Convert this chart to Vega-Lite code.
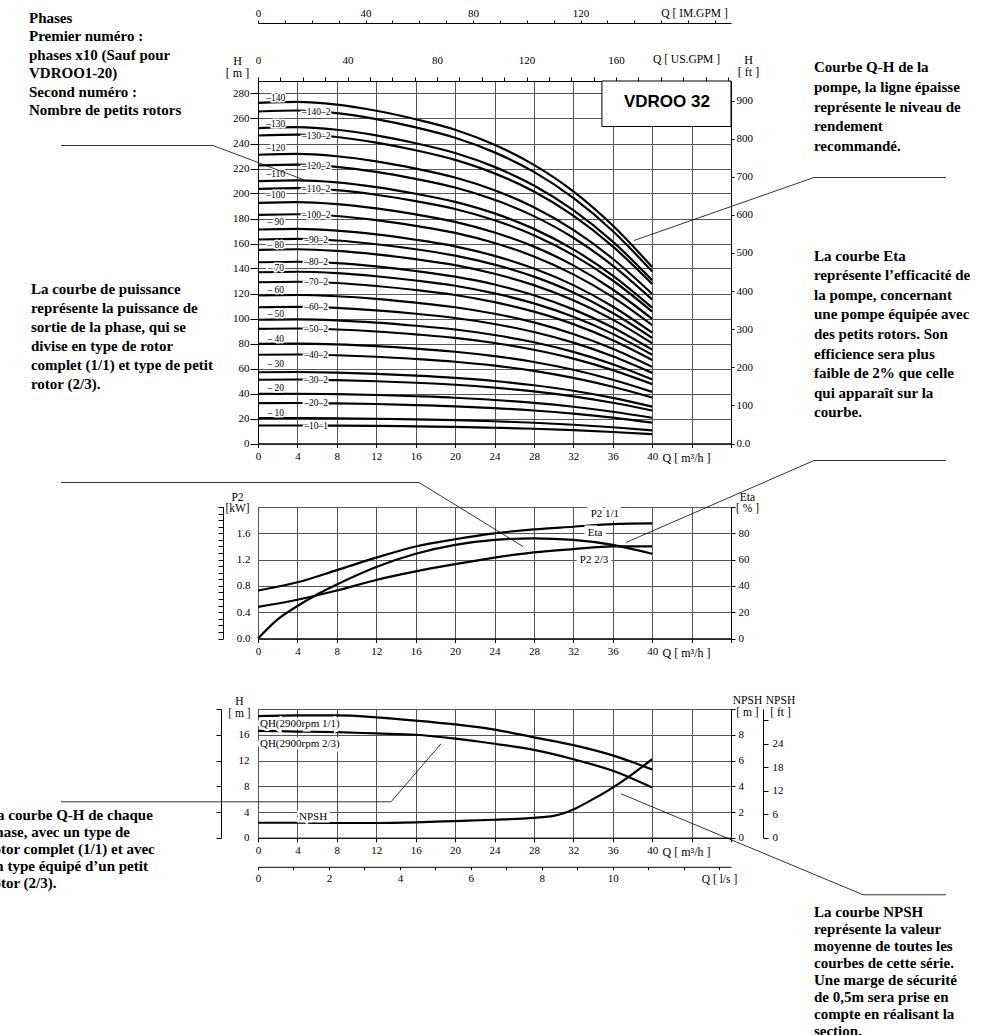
{
"$schema": "https://vega.github.io/schema/vega-lite/v6.json",
"padding": {"left": -14, "top": 6, "right": 4, "bottom": 0},
"background": "white",
"config": {
 "view": {"stroke": "black", "strokeWidth": 1},
 "axis": {"labelFont": "Liberation Serif", "labelFontSize": 11, "labelColor": "black", "titleFont": "Liberation Serif", "titleFontSize": 11.5, "titleFontWeight": "normal", "titleColor": "black", "domainColor": "black", "tickColor": "black", "gridColor": "#555", "gridWidth": 1, "labelOverlap": false, "labelFlush": false, "labelBound": false}
},
"datasets": {
 "qh": [
{"c":"140","Q":0,"H":272.5},{"c":"140","Q":4,"H":273.3},{"c":"140","Q":8,"H":271.1},{"c":"140","Q":12,"H":266.2},{"c":"140","Q":16,"H":259.4},{"c":"140","Q":20,"H":251.0},{"c":"140","Q":24,"H":239.0},{"c":"140","Q":28,"H":222.9},{"c":"140","Q":32,"H":201.7},{"c":"140","Q":36,"H":174.4},{"c":"140","Q":40,"H":141.2},
{"c":"140-2","Q":0,"H":265.6},{"c":"140-2","Q":4,"H":266.4},{"c":"140-2","Q":8,"H":264.3},{"c":"140-2","Q":12,"H":259.5},{"c":"140-2","Q":16,"H":252.9},{"c":"140-2","Q":20,"H":244.6},{"c":"140-2","Q":24,"H":232.9},{"c":"140-2","Q":28,"H":217.3},{"c":"140-2","Q":32,"H":196.5},{"c":"140-2","Q":36,"H":170.0},{"c":"140-2","Q":40,"H":137.6},
{"c":"130","Q":0,"H":252.3},{"c":"130","Q":4,"H":253.1},{"c":"130","Q":8,"H":251.0},{"c":"130","Q":12,"H":246.5},{"c":"130","Q":16,"H":240.2},{"c":"130","Q":20,"H":232.4},{"c":"130","Q":24,"H":221.3},{"c":"130","Q":28,"H":206.4},{"c":"130","Q":32,"H":186.7},{"c":"130","Q":36,"H":161.5},{"c":"130","Q":40,"H":130.7},
{"c":"130-2","Q":0,"H":246.4},{"c":"130-2","Q":4,"H":247.1},{"c":"130-2","Q":8,"H":245.2},{"c":"130-2","Q":12,"H":240.7},{"c":"130-2","Q":16,"H":234.6},{"c":"130-2","Q":20,"H":226.9},{"c":"130-2","Q":24,"H":216.1},{"c":"130-2","Q":28,"H":201.6},{"c":"130-2","Q":32,"H":182.3},{"c":"130-2","Q":36,"H":157.7},{"c":"130-2","Q":40,"H":127.6},
{"c":"120","Q":0,"H":231.0},{"c":"120","Q":4,"H":231.7},{"c":"120","Q":8,"H":229.8},{"c":"120","Q":12,"H":225.7},{"c":"120","Q":16,"H":219.9},{"c":"120","Q":20,"H":212.8},{"c":"120","Q":24,"H":202.6},{"c":"120","Q":28,"H":189.0},{"c":"120","Q":32,"H":170.9},{"c":"120","Q":36,"H":147.8},{"c":"120","Q":40,"H":119.7},
{"c":"120-2","Q":0,"H":222.4},{"c":"120-2","Q":4,"H":223.1},{"c":"120-2","Q":8,"H":221.3},{"c":"120-2","Q":12,"H":217.3},{"c":"120-2","Q":16,"H":211.7},{"c":"120-2","Q":20,"H":204.8},{"c":"120-2","Q":24,"H":195.0},{"c":"120-2","Q":28,"H":181.9},{"c":"120-2","Q":32,"H":164.6},{"c":"120-2","Q":36,"H":142.3},{"c":"120-2","Q":40,"H":115.2},
{"c":"110","Q":0,"H":209.9},{"c":"110","Q":4,"H":210.5},{"c":"110","Q":8,"H":208.9},{"c":"110","Q":12,"H":205.1},{"c":"110","Q":16,"H":199.8},{"c":"110","Q":20,"H":193.3},{"c":"110","Q":24,"H":184.1},{"c":"110","Q":28,"H":171.7},{"c":"110","Q":32,"H":155.3},{"c":"110","Q":36,"H":134.3},{"c":"110","Q":40,"H":108.7},
{"c":"110-2","Q":0,"H":203.7},{"c":"110-2","Q":4,"H":204.3},{"c":"110-2","Q":8,"H":202.7},{"c":"110-2","Q":12,"H":199.0},{"c":"110-2","Q":16,"H":193.9},{"c":"110-2","Q":20,"H":187.6},{"c":"110-2","Q":24,"H":178.6},{"c":"110-2","Q":28,"H":166.6},{"c":"110-2","Q":32,"H":150.7},{"c":"110-2","Q":36,"H":130.4},{"c":"110-2","Q":40,"H":105.5},
{"c":"100","Q":0,"H":192.5},{"c":"100","Q":4,"H":193.1},{"c":"100","Q":8,"H":191.5},{"c":"100","Q":12,"H":188.1},{"c":"100","Q":16,"H":183.3},{"c":"100","Q":20,"H":177.3},{"c":"100","Q":24,"H":168.8},{"c":"100","Q":28,"H":157.5},{"c":"100","Q":32,"H":142.5},{"c":"100","Q":36,"H":123.2},{"c":"100","Q":40,"H":99.7},
{"c":"100-2","Q":0,"H":182.9},{"c":"100-2","Q":4,"H":183.4},{"c":"100-2","Q":8,"H":182.0},{"c":"100-2","Q":12,"H":178.7},{"c":"100-2","Q":16,"H":174.1},{"c":"100-2","Q":20,"H":168.5},{"c":"100-2","Q":24,"H":160.4},{"c":"100-2","Q":28,"H":149.6},{"c":"100-2","Q":32,"H":135.3},{"c":"100-2","Q":36,"H":117.1},{"c":"100-2","Q":40,"H":94.7},
{"c":"90","Q":0,"H":171.2},{"c":"90","Q":4,"H":171.7},{"c":"90","Q":8,"H":170.3},{"c":"90","Q":12,"H":167.3},{"c":"90","Q":16,"H":163.0},{"c":"90","Q":20,"H":157.7},{"c":"90","Q":24,"H":150.1},{"c":"90","Q":28,"H":140.0},{"c":"90","Q":32,"H":126.7},{"c":"90","Q":36,"H":109.6},{"c":"90","Q":40,"H":88.7},
{"c":"90-2","Q":0,"H":163.2},{"c":"90-2","Q":4,"H":163.7},{"c":"90-2","Q":8,"H":162.4},{"c":"90-2","Q":12,"H":159.4},{"c":"90-2","Q":16,"H":155.4},{"c":"90-2","Q":20,"H":150.3},{"c":"90-2","Q":24,"H":143.1},{"c":"90-2","Q":28,"H":133.5},{"c":"90-2","Q":32,"H":120.8},{"c":"90-2","Q":36,"H":104.4},{"c":"90-2","Q":40,"H":84.5},
{"c":"80","Q":0,"H":154.9},{"c":"80","Q":4,"H":155.4},{"c":"80","Q":8,"H":154.1},{"c":"80","Q":12,"H":151.3},{"c":"80","Q":16,"H":147.5},{"c":"80","Q":20,"H":142.7},{"c":"80","Q":24,"H":135.8},{"c":"80","Q":28,"H":126.7},{"c":"80","Q":32,"H":114.6},{"c":"80","Q":36,"H":99.1},{"c":"80","Q":40,"H":80.2},
{"c":"80-2","Q":0,"H":145.0},{"c":"80-2","Q":4,"H":145.4},{"c":"80-2","Q":8,"H":144.3},{"c":"80-2","Q":12,"H":141.7},{"c":"80-2","Q":16,"H":138.0},{"c":"80-2","Q":20,"H":133.5},{"c":"80-2","Q":24,"H":127.2},{"c":"80-2","Q":28,"H":118.6},{"c":"80-2","Q":32,"H":107.3},{"c":"80-2","Q":36,"H":92.8},{"c":"80-2","Q":40,"H":75.1},
{"c":"70","Q":0,"H":137.0},{"c":"70","Q":4,"H":137.4},{"c":"70","Q":8,"H":136.3},{"c":"70","Q":12,"H":133.8},{"c":"70","Q":16,"H":130.4},{"c":"70","Q":20,"H":126.2},{"c":"70","Q":24,"H":120.1},{"c":"70","Q":28,"H":112.1},{"c":"70","Q":32,"H":101.4},{"c":"70","Q":36,"H":87.7},{"c":"70","Q":40,"H":71.0},
{"c":"70-2","Q":0,"H":129.0},{"c":"70-2","Q":4,"H":129.4},{"c":"70-2","Q":8,"H":128.4},{"c":"70-2","Q":12,"H":126.0},{"c":"70-2","Q":16,"H":122.8},{"c":"70-2","Q":20,"H":118.8},{"c":"70-2","Q":24,"H":113.1},{"c":"70-2","Q":28,"H":105.5},{"c":"70-2","Q":32,"H":95.5},{"c":"70-2","Q":36,"H":82.6},{"c":"70-2","Q":40,"H":66.8},
{"c":"60","Q":0,"H":118.4},{"c":"60","Q":4,"H":118.8},{"c":"60","Q":8,"H":117.8},{"c":"60","Q":12,"H":115.7},{"c":"60","Q":16,"H":112.7},{"c":"60","Q":20,"H":109.0},{"c":"60","Q":24,"H":103.8},{"c":"60","Q":28,"H":96.9},{"c":"60","Q":32,"H":87.6},{"c":"60","Q":36,"H":75.8},{"c":"60","Q":40,"H":61.3},
{"c":"60-2","Q":0,"H":109.0},{"c":"60-2","Q":4,"H":109.3},{"c":"60-2","Q":8,"H":108.5},{"c":"60-2","Q":12,"H":106.5},{"c":"60-2","Q":16,"H":103.8},{"c":"60-2","Q":20,"H":100.4},{"c":"60-2","Q":24,"H":95.6},{"c":"60-2","Q":28,"H":89.2},{"c":"60-2","Q":32,"H":80.7},{"c":"60-2","Q":36,"H":69.8},{"c":"60-2","Q":40,"H":56.5},
{"c":"50","Q":0,"H":99.0},{"c":"50","Q":4,"H":99.3},{"c":"50","Q":8,"H":98.5},{"c":"50","Q":12,"H":96.7},{"c":"50","Q":16,"H":94.2},{"c":"50","Q":20,"H":91.2},{"c":"50","Q":24,"H":86.8},{"c":"50","Q":28,"H":81.0},{"c":"50","Q":32,"H":73.3},{"c":"50","Q":36,"H":63.4},{"c":"50","Q":40,"H":51.3},
{"c":"50-2","Q":0,"H":91.7},{"c":"50-2","Q":4,"H":92.0},{"c":"50-2","Q":8,"H":91.2},{"c":"50-2","Q":12,"H":89.6},{"c":"50-2","Q":16,"H":87.3},{"c":"50-2","Q":20,"H":84.5},{"c":"50-2","Q":24,"H":80.4},{"c":"50-2","Q":28,"H":75.0},{"c":"50-2","Q":32,"H":67.9},{"c":"50-2","Q":36,"H":58.7},{"c":"50-2","Q":40,"H":47.5},
{"c":"40","Q":0,"H":79.7},{"c":"40","Q":4,"H":79.9},{"c":"40","Q":8,"H":79.3},{"c":"40","Q":12,"H":77.9},{"c":"40","Q":16,"H":75.9},{"c":"40","Q":20,"H":73.4},{"c":"40","Q":24,"H":69.9},{"c":"40","Q":28,"H":65.2},{"c":"40","Q":32,"H":59.0},{"c":"40","Q":36,"H":51.0},{"c":"40","Q":40,"H":41.3},
{"c":"40-2","Q":0,"H":71.0},{"c":"40-2","Q":4,"H":71.2},{"c":"40-2","Q":8,"H":70.6},{"c":"40-2","Q":12,"H":69.4},{"c":"40-2","Q":16,"H":67.6},{"c":"40-2","Q":20,"H":65.4},{"c":"40-2","Q":24,"H":62.3},{"c":"40-2","Q":28,"H":58.1},{"c":"40-2","Q":32,"H":52.5},{"c":"40-2","Q":36,"H":45.4},{"c":"40-2","Q":40,"H":36.8},
{"c":"30","Q":0,"H":57.0},{"c":"30","Q":4,"H":57.2},{"c":"30","Q":8,"H":56.7},{"c":"30","Q":12,"H":55.7},{"c":"30","Q":16,"H":54.3},{"c":"30","Q":20,"H":52.5},{"c":"30","Q":24,"H":50.0},{"c":"30","Q":28,"H":46.6},{"c":"30","Q":32,"H":42.2},{"c":"30","Q":36,"H":36.5},{"c":"30","Q":40,"H":29.5},
{"c":"30-2","Q":0,"H":51.0},{"c":"30-2","Q":4,"H":51.2},{"c":"30-2","Q":8,"H":50.7},{"c":"30-2","Q":12,"H":49.8},{"c":"30-2","Q":16,"H":48.6},{"c":"30-2","Q":20,"H":47.0},{"c":"30-2","Q":24,"H":44.7},{"c":"30-2","Q":28,"H":41.7},{"c":"30-2","Q":32,"H":37.7},{"c":"30-2","Q":36,"H":32.6},{"c":"30-2","Q":40,"H":26.4},
{"c":"20","Q":0,"H":39.7},{"c":"20","Q":4,"H":39.8},{"c":"20","Q":8,"H":39.5},{"c":"20","Q":12,"H":38.8},{"c":"20","Q":16,"H":37.8},{"c":"20","Q":20,"H":36.6},{"c":"20","Q":24,"H":34.8},{"c":"20","Q":28,"H":32.5},{"c":"20","Q":32,"H":29.4},{"c":"20","Q":36,"H":25.4},{"c":"20","Q":40,"H":20.6},
{"c":"20-2","Q":0,"H":32.3},{"c":"20-2","Q":4,"H":32.4},{"c":"20-2","Q":8,"H":32.1},{"c":"20-2","Q":12,"H":31.6},{"c":"20-2","Q":16,"H":30.7},{"c":"20-2","Q":20,"H":29.7},{"c":"20-2","Q":24,"H":28.3},{"c":"20-2","Q":28,"H":26.4},{"c":"20-2","Q":32,"H":23.9},{"c":"20-2","Q":36,"H":20.7},{"c":"20-2","Q":40,"H":16.7},
{"c":"10","Q":0,"H":20.3},{"c":"10","Q":4,"H":20.4},{"c":"10","Q":8,"H":20.2},{"c":"10","Q":12,"H":19.8},{"c":"10","Q":16,"H":19.3},{"c":"10","Q":20,"H":18.7},{"c":"10","Q":24,"H":17.8},{"c":"10","Q":28,"H":16.6},{"c":"10","Q":32,"H":15.0},{"c":"10","Q":36,"H":13.0},{"c":"10","Q":40,"H":10.5},
{"c":"10-1","Q":0,"H":14.4},{"c":"10-1","Q":4,"H":14.4},{"c":"10-1","Q":8,"H":14.3},{"c":"10-1","Q":12,"H":14.1},{"c":"10-1","Q":16,"H":13.7},{"c":"10-1","Q":20,"H":13.3},{"c":"10-1","Q":24,"H":12.6},{"c":"10-1","Q":28,"H":11.8},{"c":"10-1","Q":32,"H":10.7},{"c":"10-1","Q":36,"H":9.2},{"c":"10-1","Q":40,"H":7.5}
 ],
 "lab1": [
{"Q":1.8,"H":276.2,"t":"–140"},{"Q":1.8,"H":255.8,"t":"–130"},{"Q":1.8,"H":236.2,"t":"–120"},{"Q":1.8,"H":215.8,"t":"–110"},{"Q":1.8,"H":199.0,"t":"–100"},{"Q":1.8,"H":177.0,"t":"– 90"},{"Q":1.8,"H":159.0,"t":"– 80"},{"Q":1.8,"H":140.6,"t":"– 70"},{"Q":1.8,"H":123.0,"t":"– 60"},{"Q":1.8,"H":103.8,"t":"– 50"},{"Q":1.8,"H":83.8,"t":"– 40"},{"Q":1.8,"H":63.8,"t":"– 30"},{"Q":1.8,"H":44.2,"t":"– 20"},{"Q":1.8,"H":24.6,"t":"– 10"},
{"Q":5.9,"H":265.4,"t":"–140–2"},{"Q":5.9,"H":246.2,"t":"–130–2"},{"Q":5.9,"H":222.2,"t":"–120–2"},{"Q":5.9,"H":203.5,"t":"–110–2"},{"Q":5.9,"H":182.7,"t":"–100–2"},{"Q":5.9,"H":163.1,"t":"–90–2"},{"Q":5.9,"H":144.9,"t":"–80–2"},{"Q":5.9,"H":128.9,"t":"–70–2"},{"Q":5.9,"H":108.9,"t":"–60–2"},{"Q":5.9,"H":91.6,"t":"–50–2"},{"Q":5.9,"H":70.9,"t":"–40–2"},{"Q":5.9,"H":51.0,"t":"–30–2"},{"Q":5.9,"H":32.3,"t":"–20–2"},{"Q":5.9,"H":14.35,"t":"–10–1"}
 ],
 "lead1": [
{"g":"a","o":1,"Q":-19.99,"H":238.4},{"g":"a","o":2,"Q":-4.57,"H":238.4},{"g":"a","o":3,"Q":4.57,"H":211.2},
{"g":"b","o":1,"Q":69.82,"H":212.8},{"g":"b","o":2,"Q":56.42,"H":212.8},{"g":"b","o":3,"Q":38.16,"H":162.4}
 ],
 "p2": [
{"c":"1/1","Q":0,"P":0.73},{"c":"1/1","Q":4,"P":0.855},{"c":"1/1","Q":8,"P":1.04},{"c":"1/1","Q":12,"P":1.23},{"c":"1/1","Q":16,"P":1.40},{"c":"1/1","Q":20,"P":1.51},{"c":"1/1","Q":24,"P":1.60},{"c":"1/1","Q":28,"P":1.66},{"c":"1/1","Q":32,"P":1.70},{"c":"1/1","Q":36,"P":1.74},{"c":"1/1","Q":40,"P":1.75},
{"c":"2/3","Q":0,"P":0.48},{"c":"2/3","Q":4,"P":0.59},{"c":"2/3","Q":8,"P":0.73},{"c":"2/3","Q":12,"P":0.89},{"c":"2/3","Q":16,"P":1.02},{"c":"2/3","Q":20,"P":1.13},{"c":"2/3","Q":24,"P":1.23},{"c":"2/3","Q":28,"P":1.31},{"c":"2/3","Q":32,"P":1.36},{"c":"2/3","Q":36,"P":1.40},{"c":"2/3","Q":40,"P":1.40}
 ],
 "eta": [
{"Q":0,"E":0},{"Q":2,"E":14.6},{"Q":4,"E":24.7},{"Q":6,"E":33.5},{"Q":8,"E":41},{"Q":12,"E":54.3},{"Q":16,"E":64.4},{"Q":20,"E":71.2},{"Q":24,"E":75},{"Q":28,"E":76.2},{"Q":32,"E":75},{"Q":36,"E":71.2},{"Q":40,"E":64.4}
 ],
 "lab2": [
{"Q":35.2,"P":1.89,"t":"P2  1/1"},{"Q":34.2,"P":1.60,"t":"Eta"},{"Q":34.1,"P":1.19,"t":"P2  2/3"}
 ],
 "lead2": [
{"g":"c","o":1,"Q":-19.99,"P":2.373},{"g":"c","o":2,"Q":16.34,"P":2.373},{"g":"c","o":3,"Q":26.89,"P":1.399},
{"g":"d","o":1,"Q":69.82,"P":2.707},{"g":"d","o":2,"Q":56.42,"P":2.707},{"g":"d","o":3,"Q":37.35,"P":1.46}
 ],
 "qh3": [
{"c":"1/1","Q":0,"H":18.9},{"c":"1/1","Q":4,"H":19.0},{"c":"1/1","Q":8,"H":19.0},{"c":"1/1","Q":12,"H":18.7},{"c":"1/1","Q":16,"H":18.2},{"c":"1/1","Q":20,"H":17.6},{"c":"1/1","Q":24,"H":16.8},{"c":"1/1","Q":28,"H":15.6},{"c":"1/1","Q":32,"H":14.4},{"c":"1/1","Q":36,"H":12.8},{"c":"1/1","Q":40,"H":10.6},
{"c":"2/3","Q":0,"H":16.6},{"c":"2/3","Q":4,"H":16.5},{"c":"2/3","Q":8,"H":16.4},{"c":"2/3","Q":12,"H":16.2},{"c":"2/3","Q":16,"H":16.0},{"c":"2/3","Q":20,"H":15.4},{"c":"2/3","Q":24,"H":14.6},{"c":"2/3","Q":28,"H":13.65},{"c":"2/3","Q":32,"H":12.2},{"c":"2/3","Q":36,"H":10.4},{"c":"2/3","Q":40,"H":7.8}
 ],
 "npsh": [
{"Q":0,"N":1.17},{"Q":4,"N":1.17},{"Q":8,"N":1.15},{"Q":12,"N":1.15},{"Q":16,"N":1.2},{"Q":20,"N":1.3},{"Q":24,"N":1.4},{"Q":28,"N":1.55},{"Q":30,"N":1.7},{"Q":31,"N":1.9},{"Q":32,"N":2.2},{"Q":34,"N":3.0},{"Q":36,"N":3.9},{"Q":38,"N":4.95},{"Q":40,"N":6.1}
 ],
 "lab3": [
{"Q":0.2,"H":17.7,"t":"QH(2900rpm 1/1)"},{"Q":0.2,"H":14.6,"t":"QH(2900rpm 2/3)"},{"Q":4.16,"H":3.26,"t":"NPSH"}
 ],
 "lead3": [
{"g":"e","o":1,"Q":-19.99,"H":5.59},{"g":"e","o":2,"Q":13.5,"H":5.59},{"g":"e","o":3,"Q":18.57,"H":14.6},
{"g":"f","o":1,"Q":36.84,"H":6.83},{"g":"f","o":2,"Q":61.4,"H":-8.85},{"g":"f","o":3,"Q":69.82,"H":-8.85}
 ],
 "dummy": [{"Q":0,"H":0,"P":0}]
},
"bounds": "flush",
"spacing": 0,
"vconcat": [
 {
  "width": 473, "height": 362.5,
  "encoding": {
   "x": {"field": "Q", "type": "quantitative", "scale": {"domain": [0, 48]}, "axis": null},
   "y": {"field": "H", "type": "quantitative", "scale": {"domain": [0, 290]}, "axis": null}
  },
  "layer": [
   {"data": {"name": "qh"}, "mark": {"type": "line", "color": "black", "strokeWidth": 2.2, "interpolate": "monotone"},
    "encoding": {
     "x": {"field": "Q", "type": "quantitative", "scale": {"domain": [0, 48]},
      "axis": {"orient": "bottom", "values": [0,4,8,12,16,20,24,28,32,36,40,44,48], "labelExpr": "datum.value <= 40 ? datum.label : ''", "tickSize": 4, "labelPadding": 3, "grid": true, "title": "Q [ m³/h ]", "titleX": 428, "titleY": 14, "titleBaseline": "middle", "titleAlign": "center", "titleFontSize": 12}},
     "y": {"field": "H", "type": "quantitative", "scale": {"domain": [0, 290]},
      "axis": {"orient": "left", "values": [0,20,40,60,80,100,120,140,160,180,200,220,240,260,280], "tickSize": 8, "labelPadding": 1, "grid": true, "title": ["H", "[ m ]"], "titleAngle": 0, "titleX": -21, "titleY": -14, "titleBaseline": "bottom", "titleAlign": "center", "titleLineHeight": 12, "titleFontSize": 12}},
     "detail": {"field": "c"}}},
   {"data": {"name": "lab1"}, "mark": {"type": "text", "font": "Liberation Serif", "fontSize": 9.5, "fill": "white", "stroke": "white", "strokeWidth": 3}, "encoding": {"text": {"field": "t"}}},
   {"data": {"name": "lab1"}, "mark": {"type": "text", "font": "Liberation Serif", "fontSize": 9.5, "fill": "black"}, "encoding": {"text": {"field": "t"}}},
   {"data": {"values": [{"Q": 34.9, "Q2": 48, "H": 253.6, "H2": 290}]}, "mark": {"type": "rect", "fill": "white", "stroke": "black", "strokeWidth": 1}, "encoding": {"x2": {"field": "Q2"}, "y2": {"field": "H2"}}},
   {"data": {"values": [{"Q": 41.5, "H": 273.5, "t": "VDROO 32"}]}, "mark": {"type": "text", "font": "Liberation Sans", "fontWeight": "bold", "fontSize": 17, "fill": "black"}, "encoding": {"text": {"field": "t"}}},
   {"data": {"name": "lead1"}, "mark": {"type": "line", "color": "black", "strokeWidth": 0.8}, "encoding": {"detail": {"field": "g"}, "order": {"field": "o"}}},
   {"data": {"values": [{"Q": -23.24, "H": 346.4, "t": "Phases\nPremier numéro :\nphases x10 (Sauf pour\nVDROO1-20)\nSecond numéro :\nNombre de petits rotors"}]}, "mark": {"type": "text", "align": "left", "baseline": "top", "font": "Liberation Serif", "fontSize": 15, "fontWeight": "bold", "fill": "black", "lineBreak": "\n", "lineHeight": 18.5}, "encoding": {"text": {"field": "t"}}},
   {"data": {"values": [{"Q": 56.42, "H": 306.6, "t": "Courbe Q-H de la\npompe, la ligne épaisse\nreprésente le niveau de\nrendement\nrecommandé."}]}, "mark": {"type": "text", "align": "left", "baseline": "top", "font": "Liberation Serif", "fontSize": 15, "fontWeight": "bold", "fill": "black", "lineBreak": "\n", "lineHeight": 19.7}, "encoding": {"text": {"field": "t"}}},
   {"data": {"values": [{"Q": -23.04, "H": 129.2, "t": "La courbe de puissance\nreprésente la puissance de\nsortie de la phase, qui se\ndivise en type de rotor\ncomplet (1/1) et type de petit\nrotor (2/3)."}]}, "mark": {"type": "text", "align": "left", "baseline": "top", "font": "Liberation Serif", "fontSize": 15, "fontWeight": "bold", "fill": "black", "lineBreak": "\n", "lineHeight": 19}, "encoding": {"text": {"field": "t"}}},
   {"data": {"values": [{"Q": 56.42, "H": 156.0, "t": "La courbe Eta\nreprésente l’efficacité de\nla pompe, concernant\nune pompe équipée avec\ndes petits rotors. Son\nefficience sera plus\nfaible de 2% que celle\nqui apparaît sur la\ncourbe."}]}, "mark": {"type": "text", "align": "left", "baseline": "top", "font": "Liberation Serif", "fontSize": 15, "fontWeight": "bold", "fill": "black", "lineBreak": "\n", "lineHeight": 19.6}, "encoding": {"text": {"field": "t"}}},
   {"data": {"name": "dummy"}, "mark": {"type": "point", "opacity": 0},
    "encoding": {"y": {"field": "H", "type": "quantitative", "scale": {"domain": [0, 951.4]},
     "axis": {"orient": "right", "values": [0,100,200,300,400,500,600,700,800,900], "labelExpr": "datum.value == 0 ? '0.0' : datum.label", "grid": false, "tickSize": 3, "labelPadding": 2, "title": ["H", "[ ft ]"], "titleAngle": 0, "titleX": 17, "titleY": -15, "titleBaseline": "bottom", "titleAlign": "center", "titleLineHeight": 12, "titleFontSize": 12}}}},
   {"data": {"name": "dummy"}, "mark": {"type": "point", "opacity": 0},
    "encoding": {"x": {"field": "Q", "type": "quantitative", "scale": {"domain": [0, 211.34]},
     "axis": {"orient": "top", "values": [0,10,20,30,40,50,60,70,80,90,100,110,120,130,140,150,160,170,180,190,200,210], "labelExpr": "datum.value % 40 == 0 && datum.value <= 160 ? datum.label : ''", "grid": false, "tickSize": 4, "labelPadding": 12, "title": "Q [ US.GPM ]", "titleX": 428, "titleY": -22, "titleBaseline": "middle", "titleAlign": "center"}}}},
   {"data": {"name": "dummy"}, "mark": {"type": "point", "opacity": 0},
    "encoding": {"x": {"field": "Q", "type": "quantitative", "scale": {"domain": [0, 175.97]},
     "axis": {"orient": "top", "offset": 58, "values": [0,10,20,30,40,50,60,70,80,90,100,110,120,130,140,150,160,170], "labelExpr": "datum.value % 40 == 0 && datum.value <= 120 ? datum.label : ''", "grid": false, "tickSize": 3, "labelPadding": 2, "title": "Q [ IM.GPM ]", "titleX": 436, "titleY": -10, "titleBaseline": "middle", "titleAlign": "center"}}}}
  ],
  "resolve": {"scale": {"x": "independent", "y": "independent"}}
 },
 {
  "width": 473, "height": 62.5, "view": {"stroke": null},
  "data": {"name": "dummy"}, "mark": {"type": "point", "opacity": 0}
 },
 {
  "width": 473, "height": 131.5,
  "encoding": {
   "x": {"field": "Q", "type": "quantitative", "scale": {"domain": [0, 48]}, "axis": null},
   "y": {"field": "P", "type": "quantitative", "scale": {"domain": [0, 2.0]}, "axis": null}
  },
  "layer": [
   {"data": {"name": "p2"}, "mark": {"type": "line", "color": "black", "strokeWidth": 2.2, "interpolate": "monotone"},
    "encoding": {
     "x": {"field": "Q", "type": "quantitative", "scale": {"domain": [0, 48]},
      "axis": {"orient": "bottom", "values": [0,4,8,12,16,20,24,28,32,36,40,44,48], "labelExpr": "datum.value <= 40 ? datum.label : ''", "tickSize": 4, "labelPadding": 3, "grid": true, "title": "Q [ m³/h ]", "titleX": 428, "titleY": 14, "titleBaseline": "middle", "titleAlign": "center", "titleFontSize": 12}},
     "y": {"field": "P", "type": "quantitative", "scale": {"domain": [0, 2.0]},
      "axis": {"orient": "left", "offset": 35, "values": [0,0.1,0.2,0.3,0.4,0.5,0.6,0.7,0.8,0.9,1.0,1.1,1.2,1.3,1.4,1.5,1.6,1.7,1.8,1.9,2.0], "labelExpr": "round(datum.value*10) % 4 == 0 && datum.value < 1.9 ? format(datum.value, '.1f') : ''", "grid": false, "tickSize": 5, "labelAlign": "right", "labelPadding": -32, "title": ["P2", "[kW]"], "titleAngle": 0, "titleX": 14, "titleY": -5, "titleBaseline": "bottom", "titleAlign": "center", "titleLineHeight": 11}},
     "detail": {"field": "c"}}},
   {"data": {"name": "eta"}, "mark": {"type": "line", "color": "black", "strokeWidth": 2.2, "interpolate": "monotone"},
    "encoding": {
     "y": {"field": "E", "type": "quantitative", "scale": {"domain": [0, 100]},
      "axis": {"orient": "right", "values": [0,20,40,60,80,100], "labelExpr": "datum.value <= 80 ? datum.label : ''", "grid": true, "tickSize": 4, "labelPadding": 3, "title": ["Eta", "[ % ]"], "titleAngle": 0, "titleX": 16, "titleY": -5, "titleBaseline": "bottom", "titleAlign": "center", "titleLineHeight": 11}}}},
   {"data": {"name": "lab2"}, "mark": {"type": "text", "font": "Liberation Serif", "fontSize": 11, "fill": "white", "stroke": "white", "strokeWidth": 7}, "encoding": {"text": {"field": "t"}}},
   {"data": {"name": "lab2"}, "mark": {"type": "text", "font": "Liberation Serif", "fontSize": 11, "fill": "black"}, "encoding": {"text": {"field": "t"}}},
   {"data": {"name": "lead2"}, "mark": {"type": "line", "color": "black", "strokeWidth": 0.8}, "encoding": {"detail": {"field": "g"}, "order": {"field": "o"}}}
  ],
  "resolve": {"scale": {"x": "independent", "y": "independent"}}
 },
 {
  "width": 473, "height": 70, "view": {"stroke": null},
  "data": {"name": "dummy"}, "mark": {"type": "point", "opacity": 0}
 },
 {
  "width": 473, "height": 128.8,
  "encoding": {
   "x": {"field": "Q", "type": "quantitative", "scale": {"domain": [0, 48]}, "axis": null},
   "y": {"field": "H", "type": "quantitative", "scale": {"domain": [0, 20]}, "axis": null}
  },
  "layer": [
   {"data": {"name": "qh3"}, "mark": {"type": "line", "color": "black", "strokeWidth": 2.2, "interpolate": "monotone"},
    "encoding": {
     "x": {"field": "Q", "type": "quantitative", "scale": {"domain": [0, 48]},
      "axis": {"orient": "bottom", "values": [0,4,8,12,16,20,24,28,32,36,40,44,48], "labelExpr": "datum.value <= 40 ? datum.label : ''", "tickSize": 4, "labelPadding": 3, "grid": true, "title": "Q [ m³/h ]", "titleX": 428, "titleY": 14, "titleBaseline": "middle", "titleAlign": "center", "titleFontSize": 12}},
     "y": {"field": "H", "type": "quantitative", "scale": {"domain": [0, 20]},
      "axis": {"orient": "left", "offset": 37, "values": [0,4,8,12,16,20], "labelExpr": "datum.value < 20 ? datum.label : ''", "grid": true, "tickSize": 5, "labelAlign": "right", "labelPadding": -33, "title": ["H", "[ m ]"], "titleAngle": 0, "titleX": 18, "titleY": -3, "titleBaseline": "bottom", "titleAlign": "center", "titleLineHeight": 12}},
     "detail": {"field": "c"}}},
   {"data": {"name": "npsh"}, "mark": {"type": "line", "color": "black", "strokeWidth": 2.2, "interpolate": "monotone"},
    "encoding": {
     "y": {"field": "N", "type": "quantitative", "scale": {"domain": [0, 10]},
      "axis": {"orient": "right", "values": [0,2,4,6,8,10], "labelExpr": "datum.value < 10 ? datum.label : ''", "grid": false, "tickSize": 4, "labelPadding": 3, "title": ["NPSH", "[ m ]"], "titleAngle": 0, "titleX": 16, "titleY": -4, "titleBaseline": "bottom", "titleAlign": "center", "titleLineHeight": 12}}}},
   {"data": {"name": "dummy"}, "mark": {"type": "point", "opacity": 0},
    "encoding": {"y": {"field": "H", "type": "quantitative", "scale": {"domain": [0, 32.81]},
     "axis": {"orient": "right", "offset": 32, "values": [0,6,12,18,24,30], "labelExpr": "datum.value <= 24 ? datum.label : ''", "grid": false, "tickSize": 5, "labelPadding": 4, "title": ["NPSH", "[ ft ]"], "titleAngle": 0, "titleX": 17, "titleY": -4, "titleBaseline": "bottom", "titleAlign": "center", "titleLineHeight": 12}}}},
   {"data": {"name": "dummy"}, "mark": {"type": "point", "opacity": 0},
    "encoding": {"x": {"field": "Q", "type": "quantitative", "scale": {"domain": [0, 13.333]},
     "axis": {"orient": "bottom", "offset": 29, "values": [0,1,2,3,4,5,6,7,8,9,10,11,12,13], "labelExpr": "datum.value % 2 == 0 && datum.value <= 10 ? datum.label : ''", "grid": false, "tickSize": 3, "labelPadding": 3, "title": "Q [ l/s ]", "titleX": 461, "titleY": 13, "titleBaseline": "middle", "titleAlign": "center"}}}},
   {"data": {"name": "lab3"}, "mark": {"type": "text", "align": "left", "font": "Liberation Serif", "fontSize": 11, "fill": "white", "stroke": "white", "strokeWidth": 5}, "encoding": {"text": {"field": "t"}}},
   {"data": {"name": "lab3"}, "mark": {"type": "text", "align": "left", "font": "Liberation Serif", "fontSize": 11, "fill": "black"}, "encoding": {"text": {"field": "t"}}},
   {"data": {"name": "lead3"}, "mark": {"type": "line", "color": "black", "strokeWidth": 0.8}, "encoding": {"detail": {"field": "g"}, "order": {"field": "o"}}},
   {"data": {"values": [{"Q": -27.5, "H": 4.66, "t": "La courbe Q-H de chaque\nphase, avec un type de\nrotor complet (1/1) et avec\nun type équipé d’un petit\nrotor (2/3)."}]}, "mark": {"type": "text", "align": "left", "baseline": "top", "font": "Liberation Serif", "fontSize": 15, "fontWeight": "bold", "fill": "black", "lineBreak": "\n", "lineHeight": 17}, "encoding": {"text": {"field": "t"}}},
   {"data": {"values": [{"Q": 56.42, "H": -10.4, "t": "La courbe NPSH\nreprésente la valeur\nmoyenne de toutes les\ncourbes de cette série.\nUne marge de sécurité\nde 0,5m sera prise en\ncompte en réalisant la\nsection."}]}, "mark": {"type": "text", "align": "left", "baseline": "top", "font": "Liberation Serif", "fontSize": 15, "fontWeight": "bold", "fill": "black", "lineBreak": "\n", "lineHeight": 17}, "encoding": {"text": {"field": "t"}}}
  ],
  "resolve": {"scale": {"x": "independent", "y": "independent"}}
 }
]
}
